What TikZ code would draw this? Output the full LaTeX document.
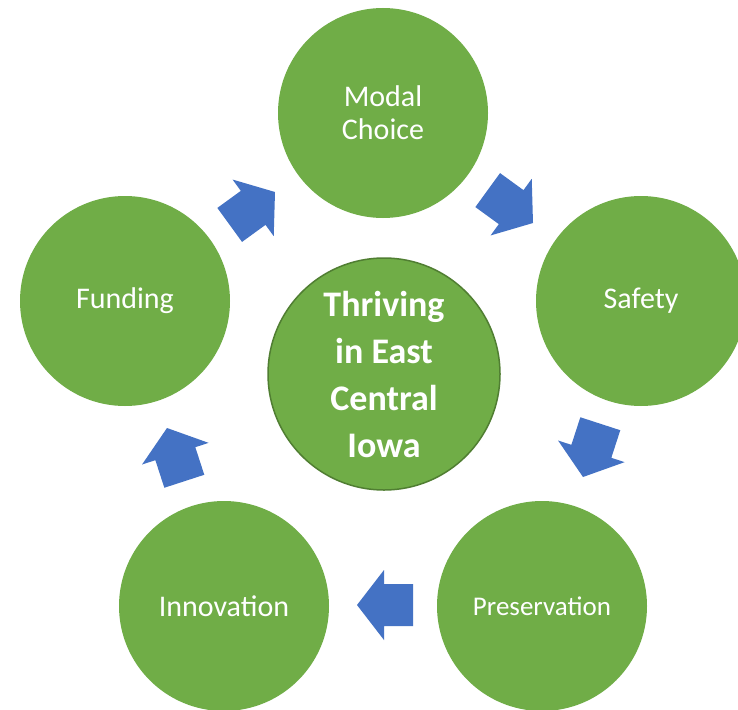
\documentclass[tikz,border=0pt]{standalone}
\usepackage{fontspec}
\setmainfont{Carlito}
\definecolor{circgreen}{HTML}{70AD47}
\definecolor{circedge}{HTML}{507E32}
\definecolor{arrowblue}{HTML}{4472C4}
\tikzset{
  petal/.style={circle, fill=circgreen, minimum size=210pt, inner sep=0pt, align=center,
    text=white, font=\fontsize{30}{33}\selectfont},
  hub/.style={circle, fill=circgreen, draw=circedge, line width=1.5pt, minimum size=232pt,
    inner sep=0pt, align=center, text=white, font=\bfseries\fontsize{36}{47}\selectfont},
  blockarrow/.pic={\fill[arrowblue] (0,0) -- (-27,-35) -- (-27,-21) -- (-56,-21)
    -- (-56,21) -- (-27,21) -- (-27,35) -- cycle;}
}
\begin{document}
\begin{tikzpicture}[x=1pt,y=-1pt]
\useasboundingbox (0,0) rectangle (738,709);
\clip (0,0) rectangle (738,709);
\fill[white] (0,0) rectangle (738,709);
\node[petal] (modal) at (383,113) {Modal\\Choice};
\node[petal] (safety) at (641,301) {Safety};
\node[petal] (preservation) at (542,606) {\fontsize{27}{30}\selectfont Preservation};
\node[petal] (innovation) at (224,606) {Innovation};
\node[petal] (funding) at (125,301) {Funding};
\node[hub] (hub) at (384,374) {Thriving\\in East\\Central\\Iowa};
\pic[rotate=-36] at (533,223) {blockarrow};
\pic[rotate=-108] at (583,477) {blockarrow};
\pic[rotate=180] at (357,605) {blockarrow};
\pic[rotate=108] at (167,428) {blockarrow};
\pic[rotate=36] at (275,192) {blockarrow};
\end{tikzpicture}
\end{document}
